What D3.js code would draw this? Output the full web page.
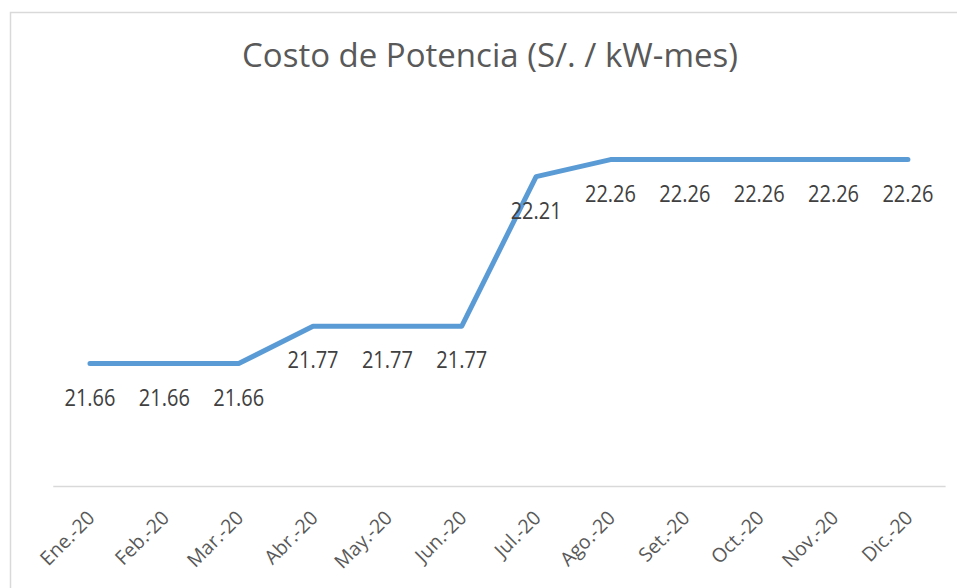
<!DOCTYPE html>
<html>
<head>
<meta charset="utf-8">
<script src="https://cdn.jsdelivr.net/npm/d3@7"></script>
<style>
  body { margin: 0; background: #fff; }
  text { font-family: "Open Sans", sans-serif; }
</style>
</head>
<body>
<div id="container"></div>
<script>
const months = ["Ene.-20","Feb.-20","Mar.-20","Abr.-20","May.-20","Jun.-20","Jul.-20","Ago.-20","Set.-20","Oct.-20","Nov.-20","Dic.-20"];
const costs = [21.66, 21.66, 21.66, 21.77, 21.77, 21.77, 22.21, 22.26, 22.26, 22.26, 22.26, 22.26];
const title = "Costo de Potencia (S/. / kW-mes)";

const width = 957;
const height = 588;
const stretch = 1.16; // data labels are a bit taller than wide

const svg = d3.select("#container")
  .append("svg")
  .attr("width", width)
  .attr("height", height)

svg.append("rect")
  .attr("x", 10.5).attr("y", 12.5)
  .attr("width", 980).attr("height", 620)
  .attr("fill", "#fff")
  .attr("stroke", "#d9d9d9")
  .attr("stroke-width", 1.5)

svg.append("text")
  .attr("x", 490).attr("y", 67)
  .attr("text-anchor", "middle")
  .attr("font-size", 33)
  .attr("fill", "#595959")
  .text(title)

const xScale = d3.scaleBand()
  .domain(months)
  .range([52.8, 945.1])
  .padding(0)

const yScale = d3.scaleLinear()
  .domain([21.3, 22.5])
  .range([486, 78])

const cx = d => xScale(d) + xScale.bandwidth() / 2

// x axis
const xAxis = d3.axisBottom(xScale).tickSize(0).tickFormat("")
const gx = svg.append("g")
  .attr("transform", "translate(0,486)")
  .call(xAxis)
gx.select(".domain").attr("stroke", "#d9d9d9").attr("stroke-width", 1.5)

svg.append("g").selectAll("text")
  .data(months)
  .enter()
  .append("text")
  .attr("transform", d => `translate(${cx(d) + 6},${519}) rotate(-45)`)
  .attr("text-anchor", "end")
  .attr("font-size", 19.5)
  .attr("fill", "#595959")
  .text(d => d)

const line = d3.line()
  .x((d, i) => cx(months[i]))
  .y(d => yScale(d))

svg.append("path")
  .datum(costs)
  .attr("d", line)
  .attr("fill", "none")
  .attr("stroke", "#5b9bd5")
  .attr("stroke-width", 5)
  .attr("stroke-linejoin", "round")
  .attr("stroke-linecap", "round")

svg.append("g").selectAll("text")
  .data(costs)
  .enter()
  .append("text")
  .attr("transform", (d, i) => `translate(${cx(months[i])},${yScale(d) + 42}) scale(1,${stretch})`)
  .attr("text-anchor", "middle")
  .attr("font-size", 20)
  .attr("fill", "#404040")
  .text(d => d.toFixed(2))
</script>
</body>
</html>
